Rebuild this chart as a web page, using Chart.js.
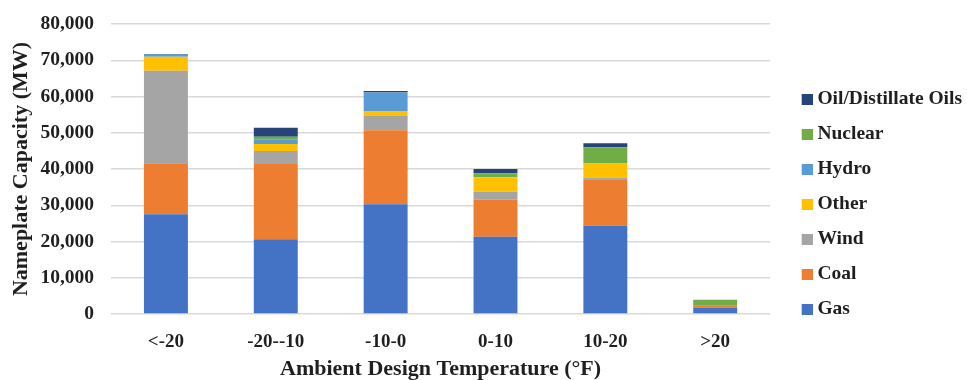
<!DOCTYPE html>
<html>
<head>
<meta charset="utf-8">
<script src="https://cdn.jsdelivr.net/npm/chart.js@4.4.1/dist/chart.umd.min.js"></script>
<style>
  html, body { margin: 0; padding: 0; background: #ffffff; }
  #wrap { width: 967px; height: 380px; position: relative; }
</style>
</head>
<body>
<div id="wrap"><canvas id="c"></canvas></div>
<script>
const categories = ['<-20', '-20--10', '-10-0', '0-10', '10-20', '>20'];
const gas     = [27500, 20600, 30300, 21300, 24400, 1700];
const coal    = [14100, 20800, 20400, 10300, 12800, 600];
const wind    = [25500, 3600, 3900, 2100, 400, 0];
const other   = [3900, 1900, 1300, 4000, 3900, 0];
const hydro   = [700, 1300, 5200, 0, 0, 0];
const nuclear = [0, 700, 0, 1100, 4500, 1600];
const oil     = [0, 2500, 400, 1200, 1100, 0];
const yTitle = 'Nameplate Capacity (MW)';
const xTitle = 'Ambient Design Temperature (°F)';

const serif = "'Liberation Serif', 'Times New Roman', serif";
const textColor = '#1f1f1f';

const series = [
  ['Gas', gas, '#4472C4'],
  ['Coal', coal, '#ED7D31'],
  ['Wind', wind, '#A5A5A5'],
  ['Other', other, '#FFC000'],
  ['Hydro', hydro, '#5B9BD5'],
  ['Nuclear', nuclear, '#70AD47'],
  ['Oil/Distillate Oils', oil, '#264478']
];

// legend swatch: small square placed at the right side of a wider transparent canvas
function swatch(color) {
  const cv = document.createElement('canvas');
  cv.width = 32; cv.height = 11;
  const g = cv.getContext('2d');
  g.fillStyle = color;
  g.fillRect(21, 0, 11, 11);
  return cv;
}

new Chart(document.getElementById('c'), {
  type: 'bar',
  data: {
    labels: categories,
    datasets: series.map(([label, data, color]) => ({
      label, data,
      backgroundColor: color,
      borderWidth: 0,
      categoryPercentage: 1.0,
      barPercentage: 0.4
    }))
  },
  options: {
    responsive: true,
    maintainAspectRatio: false,
    animation: false,
    layout: { padding: { top: 19, left: 0, right: -5, bottom: -3 } },
    plugins: {
      tooltip: { enabled: false },
      legend: {
        position: 'right',
        reverse: true,
        title: { display: true, text: ' ', padding: { top: 0, bottom: 0 }, font: { size: 6, lineHeight: 1.05 } },
        labels: {
          usePointStyle: true,
          pointStyleWidth: 22,
          boxWidth: 11,
          boxHeight: 11,
          padding: 15.5,
          color: textColor,
          font: { family: serif, size: 19.5, weight: 'bold' },
          generateLabels: (chart) => {
            const items = Chart.defaults.plugins.legend.labels.generateLabels(chart);
            items.forEach(it => { it.pointStyle = swatch(series[it.datasetIndex][2]); });
            return items;
          }
        }
      }
    },
    scales: {
      x: {
        stacked: true,
        afterFit: (scale) => { scale.height = 69; },
        grid: { display: false, drawTicks: false },
        border: { display: false },
        ticks: {
          color: textColor,
          padding: 19,
          font: { family: serif, size: 19, weight: 'bold', lineHeight: 1 }
        },
        title: {
          display: true,
          text: xTitle,
          color: textColor,
          padding: { top: 0, bottom: 2.5 },
          font: { family: serif, size: 22, weight: 'bold', lineHeight: 1 }
        }
      },
      y: {
        stacked: true,
        min: 0,
        max: 80000,
        afterFit: (scale) => { scale.width = 111; },
        ticks: {
          stepSize: 10000,
          color: textColor,
          padding: 17,
          font: { family: serif, size: 19.5, weight: 'bold', lineHeight: 0.72 }
        },
        grid: { color: '#d9d9d9', lineWidth: 1.5, drawTicks: false },
        border: { display: false },
        title: {
          display: true,
          text: yTitle,
          color: textColor,
          padding: { top: 8, bottom: 4 },
          font: { family: serif, size: 22, weight: 'bold' }
        }
      }
    }
  }
});
</script>
</body>
</html>
